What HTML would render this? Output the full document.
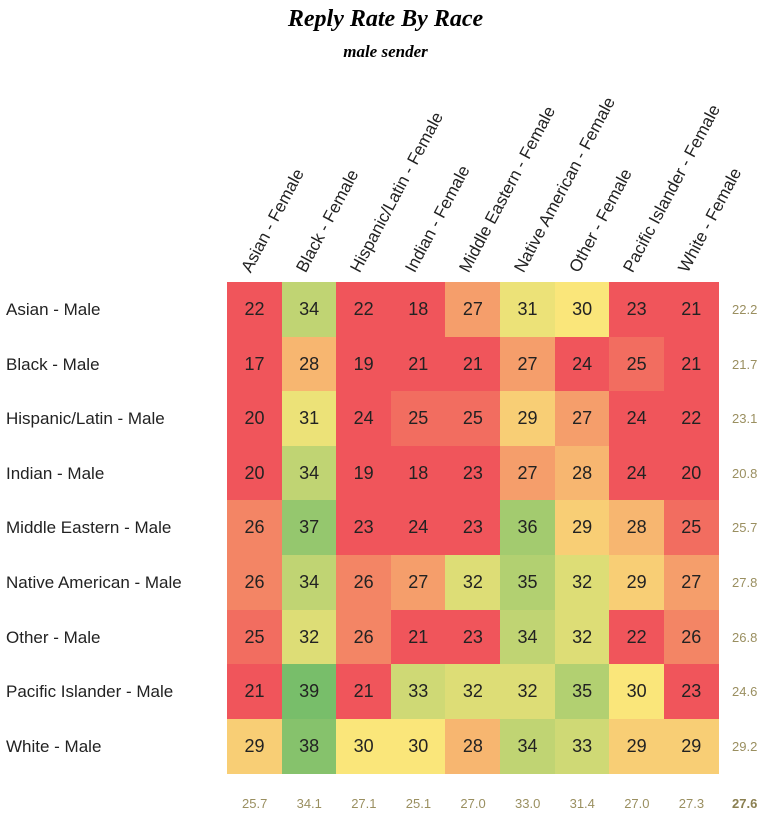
<!DOCTYPE html><html><head><style>
body{margin:0;background:#fff;width:771px;height:820px;position:relative;font-family:"Liberation Sans",sans-serif;overflow:hidden}
.t{position:absolute;left:0;width:771px;text-align:center;font-family:"Liberation Serif",serif;font-weight:bold;font-style:italic}
.c{position:absolute;width:55px;height:55px;display:flex;align-items:center;justify-content:center;font-size:18px;color:#222}
.rl{position:absolute;left:6px;font-size:17px;color:#222}
.s{position:absolute;font-size:13px;color:#9a8f60}
.h{position:absolute;font-size:17px;color:#222;transform-origin:0 100%;transform:rotate(-62deg);white-space:nowrap;line-height:20px}
</style></head><body>
<div class="t" style="top:6px;font-size:24px">Reply Rate By Race</div>
<div class="t" style="top:42px;font-size:17px">male sender</div>
<div id="g"></div>
<script>
const cols=["Asian - Female","Black - Female","Hispanic/Latin - Female","Indian - Female","Middle Eastern - Female","Native American - Female","Other - Female","Pacific Islander - Female","White - Female"];
const rows=["Asian - Male","Black - Male","Hispanic/Latin - Male","Indian - Male","Middle Eastern - Male","Native American - Male","Other - Male","Pacific Islander - Male","White - Male"];
const d=[[22,34,22,18,27,31,30,23,21],[17,28,19,21,21,27,24,25,21],[20,31,24,25,25,29,27,24,22],[20,34,19,18,23,27,28,24,20],[26,37,23,24,23,36,29,28,25],[26,34,26,27,32,35,32,29,27],[25,32,26,21,23,34,32,22,26],[21,39,21,33,32,32,35,30,23],[29,38,30,30,28,34,33,29,29]];
const rs=["22.2","21.7","23.1","20.8","25.7","27.8","26.8","24.6","29.2"];
const cs=["25.7","34.1","27.1","25.1","27.0","33.0","31.4","27.0","27.3"];
function lerp(a,b,t){return a.map((v,i)=>Math.round(v+(b[i]-v)*t))}
function col(v){const R=[240,85,91],Y=[250,230,122],G=[120,190,106];
if(v<=24)return R;if(v<=30)return lerp(R,Y,(v-24)/6);return lerp(Y,G,Math.min(1,(v-30)/9));}
let h="";const X0=227,Y0=282,W=54.6;
for(let i=0;i<9;i++){h+=`<div class="h" style="left:${X0+i*W+28}px;top:256px">${cols[i]}</div>`;
h+=`<div class="rl" style="top:${Y0+i*W+18}px">${rows[i]}</div>`;
h+=`<div class="s" style="left:732px;top:${Y0+i*W+20}px">${rs[i]}</div>`;
h+=`<div class="s" style="left:${X0+i*W+15}px;top:796px">${cs[i]}</div>`;
for(let j=0;j<9;j++){const c=col(d[i][j]);h+=`<div class="c" style="left:${X0+j*W}px;top:${Y0+i*W}px;background:rgb(${c})">${d[i][j]}</div>`;}}
h+=`<div class="s" style="left:732px;top:796px;font-weight:bold;color:#8a7f50">27.6</div>`;
document.getElementById("g").innerHTML=h;
</script></body></html>
